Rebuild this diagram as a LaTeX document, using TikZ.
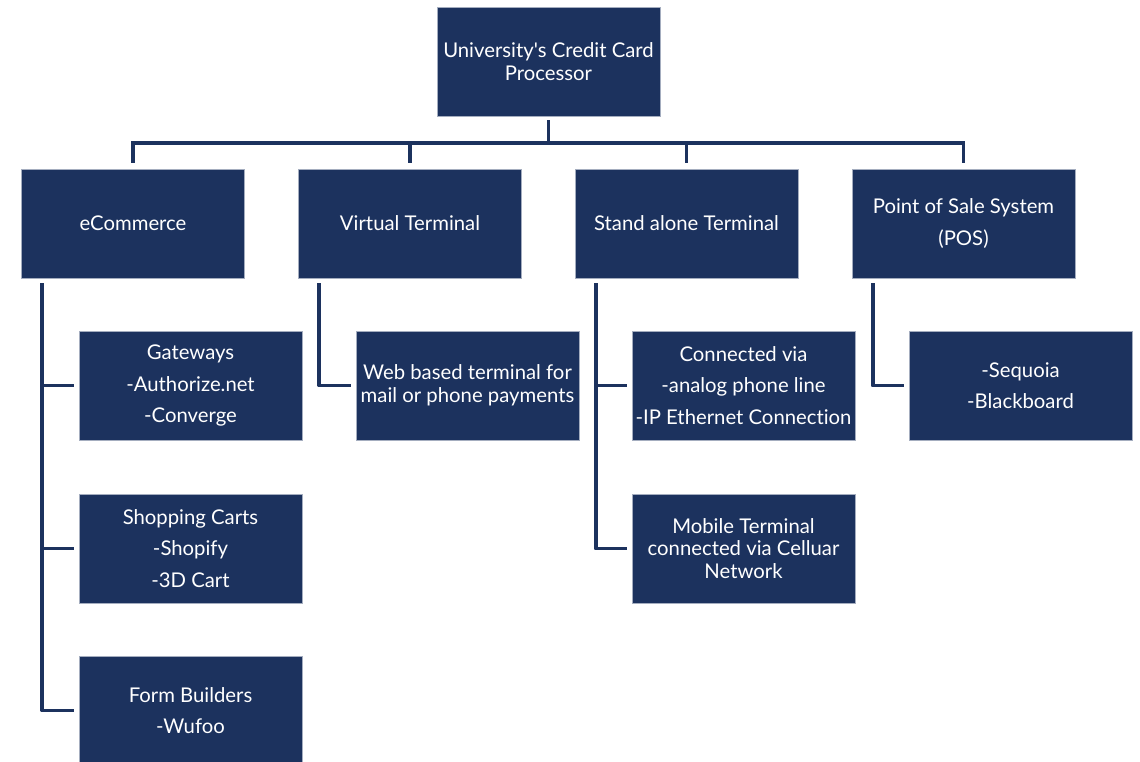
\documentclass[tikz,border=0pt]{standalone}
\usepackage{fontspec}
\setmainfont[Ligatures=NoCommon]{Lato}
\definecolor{navy}{HTML}{1C325E}
\begin{document}
\begin{tikzpicture}[x=1pt,y=-1pt,
  box/.style={fill=navy, draw=navy!40!white, line width=0.6pt, text=white,
    minimum width=223pt, minimum height=109pt, inner sep=0pt, align=center,
    font=\fontsize{20.3}{22.8}\selectfont},
  conn/.style={draw=navy, line width=3.8pt, line join=round}]
\clip (0,0) rectangle (1140,761);
\fill[white] (0,0) rectangle (1140,761);
% top
\node[box] (top) at (548.5,61.5) {University\textquotesingle s Credit Card\\Processor};
% level 1
\node[box] (ecom) at (133,223.5) {eCommerce};
\node[box] (vt) at (410,223.5) {Virtual Terminal};
\node[box] (sat) at (686.5,223.5) {Stand alone Terminal};
\node[box] (pos) at (963.5,223.5) {Point of Sale System\\[8.5pt](POS)};
% children
\node[box] (gw) at (190.5,385.5) {Gateways\\[8.5pt]-Authorize.net\\[8.5pt]-Converge};
\node[box] (sc) at (190.5,548.5) {Shopping Carts\\[8.5pt]-Shopify\\[8.5pt]-3D Cart};
\node[box] (fb) at (190.5,710.5) {Form Builders\\[8.5pt]-Wufoo};
\node[box] (vtc) at (467.5,385.5) {Web based terminal for\\mail or phone payments};
\node[box] (con) at (743.5,385.5) {Connected via\\[8.5pt]-analog phone line\\[8.5pt]-IP Ethernet Connection};
\node[box] (mob) at (743.5,548.5) {Mobile Terminal\\connected via Celluar\\Network};
\node[box] (posc) at (1020.5,385.5) {-Sequoia\\[8.5pt]-Blackboard};
% bus
\coordinate (bus) at (548.5,143);
\draw[conn, shorten <=4pt] (top.south) -- (top.south |- bus);
\draw[conn, line cap=rect] (ecom.north |- bus) -- (pos.north |- bus);
\foreach \n in {ecom,vt,sat,pos}
  \draw[conn, shorten >=6pt] (\n.north |- bus) -- (\n.north);
% branches
\coordinate (ecomt) at ([xshift=21pt,yshift=-5pt]ecom.south west);
\draw[conn, shorten >=5pt] (ecomt) |- (fb.west);
\draw[conn, shorten >=5pt] (ecomt |- gw.west) -- (gw.west);
\draw[conn, shorten >=5pt] (ecomt |- sc.west) -- (sc.west);
\coordinate (vtt) at ([xshift=21pt,yshift=-5pt]vt.south west);
\draw[conn, shorten >=5pt] (vtt) |- (vtc.west);
\coordinate (satt) at ([xshift=21pt,yshift=-5pt]sat.south west);
\draw[conn, shorten >=5pt] (satt) |- (mob.west);
\draw[conn, shorten >=5pt] (satt |- con.west) -- (con.west);
\coordinate (post) at ([xshift=21pt,yshift=-5pt]pos.south west);
\draw[conn, shorten >=5pt] (post) |- (posc.west);
\end{tikzpicture}
\end{document}
